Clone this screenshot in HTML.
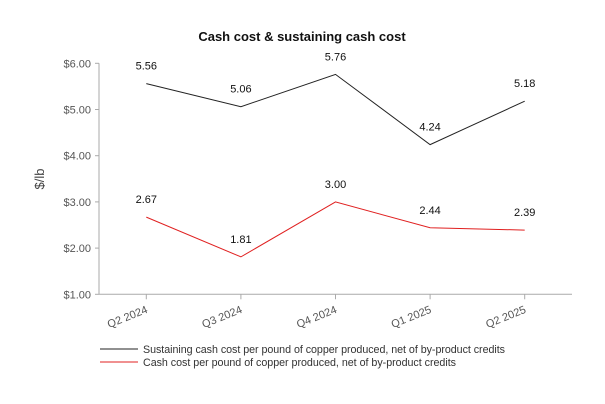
<!DOCTYPE html>
<html><head><meta charset="utf-8"><style>
body{margin:0;background:#fff}
svg{display:block;font-family:"Liberation Sans",sans-serif}
</style></head><body>
<svg id="c" width="605" height="404">
<text x="302" y="41" text-anchor="middle" font-size="13" font-weight="bold" fill="#111">Cash cost &amp; sustaining cash cost</text>
<text transform="translate(44,179) rotate(-90)" text-anchor="middle" font-size="13" fill="#444">$/lb</text>
<g id="axes"></g><g id="marks"></g>
<g>
<line x1="100" y1="349" x2="138" y2="349" stroke="#222"/>
<text x="143" y="353" font-size="10.7" fill="#333" textLength="362">Sustaining cash cost per pound of copper produced, net of by-product credits</text>
<line x1="100" y1="362" x2="138" y2="362" stroke="#e02020"/>
<text x="143" y="366" font-size="10.7" fill="#333" textLength="313">Cash cost per pound of copper produced, net of by-product credits</text>
</g>
</svg>
<script>
const categories=["Q2 2024","Q3 2024","Q4 2024","Q1 2025","Q2 2025"];
const sustaining=[5.56,5.06,5.76,4.24,5.18];
const cashCost=[2.67,1.81,3.00,2.44,2.39];
const yTicks=[1,2,3,4,5,6];
const NS="http://www.w3.org/2000/svg";
const x0=99,x1=572,yTop=63.3,yBot=294.3,yMin=1,yMax=6;
const step=(x1-x0)/categories.length;
const xs=i=>x0+step*(i+0.5);
const ys=v=>yBot-(v-yMin)/(yMax-yMin)*(yBot-yTop);
function mk(t,a,p){const e=document.createElementNS(NS,t);for(const k in a)e.setAttribute(k,a[k]);p.appendChild(e);return e;}
const ax=document.getElementById('axes'),mg=document.getElementById('marks');
let e=mk('line',{x1:x0,y1:yTop,x2:x0,y2:yBot,stroke:'#aaa'},ax);


e=mk('line',{x1:x0,y1:yBot,x2:x1,y2:yBot,stroke:'#aaa'},ax);


yTicks.forEach(v=>{
 mk('line',{x1:x0-4,y1:ys(v),x2:x0,y2:ys(v),stroke:'#aaa'},ax);
 const t=mk('text',{x:x0-8,y:ys(v)+4,'text-anchor':'end','font-size':11,fill:'#555'},ax);
 t.textContent='$'+v.toFixed(2);
 
 
});
categories.forEach((c,i)=>{
 mk('line',{x1:xs(i),y1:yBot,x2:xs(i),y2:yBot+5,stroke:'#aaa'},ax);
 const t=mk('text',{transform:`translate(${xs(i)+2},${yBot+18}) rotate(-22)`,'text-anchor':'end','font-size':11,fill:'#555'},ax);
 t.textContent=c;
 
 
});
function series(vals,color,name){
 const p=mk('polyline',{points:vals.map((v,i)=>xs(i)+','+ys(v)).join(' '),fill:'none',stroke:color,'stroke-width':1},mg);
 
 
 vals.forEach((v,i)=>{
  const t=mk('text',{x:xs(i),y:ys(v)-14,'text-anchor':'middle','font-size':11,fill:'#111'},mg);
  t.textContent=v.toFixed(2);
  
  
 });
}
series(sustaining,'#222','sustaining');
series(cashCost,'#e02020','cash-cost');
</script>
</body></html>
